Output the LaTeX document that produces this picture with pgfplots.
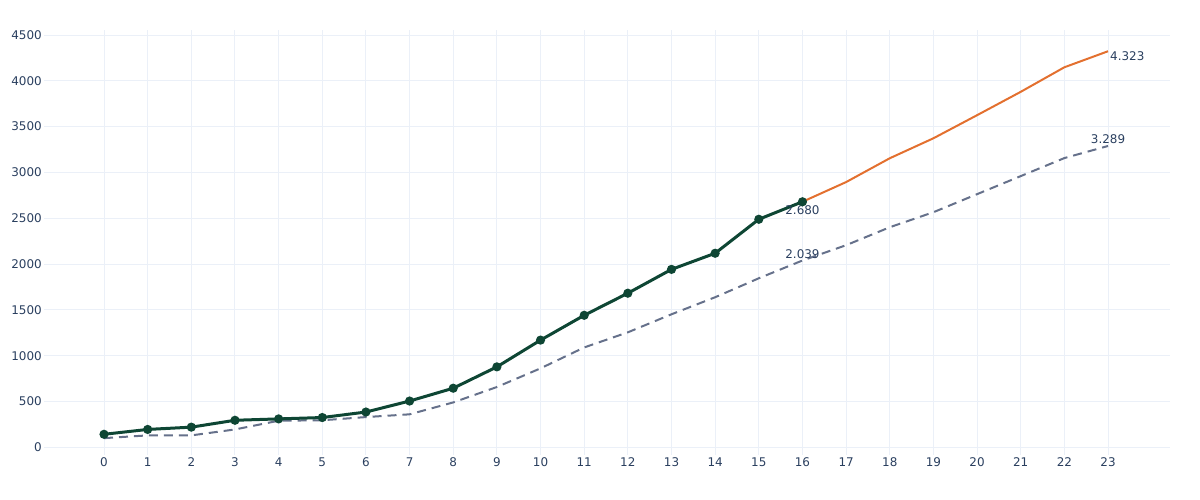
\documentclass[border=0pt]{standalone}
\usepackage{pgfplots}
\pgfplotsset{compat=1.18}
\usepackage{fontspec}
\setmainfont{DejaVu Sans}
\definecolor{txt}{HTML}{2A3F5F}
\definecolor{gridc}{HTML}{EBF0F8}
\definecolor{dgreen}{HTML}{0E4634}
\definecolor{orng}{HTML}{E3702F}
\definecolor{gry}{HTML}{66718B}
\begin{document}
\begin{tikzpicture}
\path[use as bounding box] (0,0) rectangle (1200bp,500bp);
\begin{axis}[
  anchor=south west, at={(44bp,45bp)},
  scale only axis, width=1126bp, height=425bp,
  xmin=-1.375, xmax=24.42, ymin=-84, ymax=4555,
  xtick={0,1,...,23}, ytick={0,500,...,4500},
  axis line style={draw=none},
  major tick length=0pt,
  grid=major, major grid style={color=gridc, line width=1bp},
  extra y ticks={0}, extra y tick labels={},
  extra y tick style={grid style={color=gridc, line width=2bp}},
  /pgf/number format/assume math mode=true,
  /pgf/number format/1000 sep={},
  tick label style={font=\fontsize{12}{14}\selectfont, text=txt},
  yticklabel style={anchor=east, xshift=-1bp, inner sep=1bp},
  xticklabel style={anchor=center, yshift=-7bp},
  clip=false,
]
\addplot[gry, line width=2bp, dash pattern=on 9bp off 6bp] coordinates {
(0,100)(1,130)(2,130)(3,195)(4,290)(5,295)(6,330)(7,360)(8,490)(9,658)(10,862)(11,1090)(12,1255)(13,1452)(14,1638)(15,1845)(16,2039)(17,2206)(18,2402)(19,2566)(20,2763)(21,2960)(22,3157)(23,3289)};
\addplot[orng, line width=2bp] coordinates {
(16,2680)(17,2895)(18,3155)(19,3373)(20,3625)(21,3880)(22,4148)(23,4323)};
\addplot[dgreen, line width=3bp, mark=*, mark size=3bp, mark options={solid}] coordinates {
(0,142)(1,195)(2,220)(3,295)(4,310)(5,325)(6,385)(7,505)(8,645)(9,878)(10,1170)(11,1441)(12,1682)(13,1942)(14,2118)(15,2489)(16,2680)};
\node[text=txt, font=\fontsize{12}{14}\selectfont, anchor=north, inner sep=0pt] at (axis cs:16,2680) [yshift=-4bp] {2.680};
\node[text=txt, font=\fontsize{12}{14}\selectfont, anchor=south, inner sep=0pt] at (axis cs:16,2039) [yshift=2bp] {2.039};
\node[text=txt, font=\fontsize{12}{14}\selectfont, anchor=north west, inner sep=0pt] at (axis cs:23,4323) [xshift=2bp,yshift=0bp] {4.323};
\node[text=txt, font=\fontsize{12}{14}\selectfont, anchor=south, inner sep=0pt] at (axis cs:23,3289) [yshift=2bp] {3.289};
\end{axis}
\end{tikzpicture}
\end{document}
